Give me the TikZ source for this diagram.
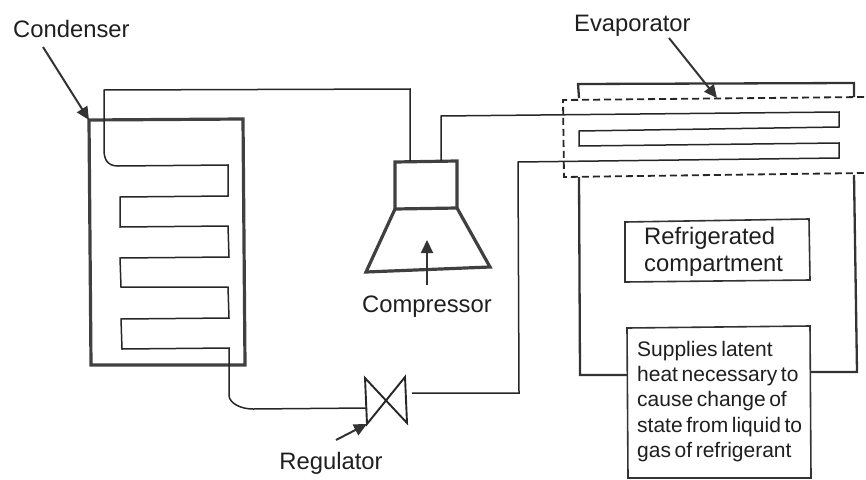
\documentclass[tikz,border=0pt]{standalone}
\usepackage{fontspec}
\setmainfont{Liberation Sans}
\usetikzlibrary{arrows.meta}
\newcommand{\tighttext}[1]{\fontsize{21}{24}\selectfont\spaceskip=3.6pt plus 0pt minus 0pt\relax #1}
\tikzset{
 thinpipe/.style={draw=black!85,line width=1.5pt,line join=miter},
 thickwall/.style={draw=black!75,line width=3.2pt,line join=miter},
 sidewall/.style={draw=black!80,line width=2.3pt,line join=miter},
 pointer/.style={draw=black!80,line width=2pt,-{Triangle[length=13pt,width=12pt]}},
 lab/.style={font=\fontsize{23.8}{26}\selectfont,text=black!88,inner sep=0pt},
 tightlab/.style={text=black!88,inner sep=0pt},
 panel/.style={draw=black!80,line width=1.6pt,fill=white},
 duct/.style={draw=black!85,line width=1.8pt,dash pattern=on 7pt off 4pt},
}
\begin{document}
\begin{tikzpicture}[x=1pt,y=-1pt]
\useasboundingbox (0,0) rectangle (866,479);
% condenser
\draw[thickwall] (89,120) -- (243,119) -- (245,365) -- (91,365) -- cycle;
% compressor
\draw[thickwall] (395,162) -- (457,161) -- (457,208) -- (395,209) -- cycle;
\draw[thickwall] (395,209) -- (366,272) -- (490,267) -- (457,208);
% coil
\draw[thinpipe] (410,161) -- (410,89) -- (104,90) -- (104,150) .. controls (104,160) and (108,166) .. (118,166) -- (228,165) -- (228,196) -- (120,197) -- (120,227) -- (228,226) -- (229,257) -- (120,258) -- (121,287) -- (228,287) -- (229,318) -- (121,319) -- (122,349) -- (229,348) -- (229,396) .. controls (230,403) and (240,409) .. (253,409) -- (366,408);
% valve
\coordinate (v1) at (365,378); \coordinate (v2) at (407,423);
\coordinate (v3) at (405,377); \coordinate (v4) at (367,424);
\draw[thinpipe,line width=1.9pt] (v1) -- (v2) -- (v3) -- (v4) -- cycle;
% evaporator coil
\draw[thinpipe] (441,161) -- (441,116) -- (839,112) -- (839,127) -- (579,131) -- (579,146) -- (839,143) -- (839,158) -- (518,162) -- (519,393) -- (412,393);
% compartment
\draw[sidewall] (579,98) -- (578,84) -- (854,83) -- (854,97);
\draw[sidewall] (579,177) -- (580,375) -- (627,375);
\draw[sidewall] (854,175) -- (857,372) -- (811,372);
\draw[duct] (864,97) -- (563,100) -- (564,177) -- (864,173);
\draw[panel] (625,222) -- (809,219) -- (810,280) -- (625,282) -- cycle;
\draw[panel] (627,328) -- (810,326) -- (811,478) -- (628,478) -- cycle;
% labels
\node[lab,anchor=base west] (l1) at (13,37) {Condenser};
\node[lab,anchor=base west] (l2) at (574,31) {Evaporator};
\node[lab,anchor=base] (l3) at (427,312) {Compressor};
\node[lab,anchor=base] (l4) at (331,469) {Regulator};
\node[lab,anchor=base west] (l5) at (644,244) {Refrigerated};
\node[lab,anchor=base west] (l6) at (644,271) {compartment};
\node[tightlab,anchor=base west] (s1) at (637,356) {\tighttext{Supplies latent}};
\node[tightlab,anchor=base west] (s2) at (637,381) {\tighttext{heat necessary to}};
\node[tightlab,anchor=base west] (s3) at (637,406) {\tighttext{cause change of}};
\node[tightlab,anchor=base west] (s4) at (637,432) {\tighttext{state from liquid to}};
\node[tightlab,anchor=base west] (s5) at (637,457) {\tighttext{gas of refrigerant}};
% pointers
\coordinate (a1) at (43,47); \coordinate (a1t) at (89,120);
\coordinate (a2) at (669,38); \coordinate (a2t) at (717,98);
\coordinate (a3) at (427,285); \coordinate (a3t) at (427,240);
\coordinate (a4) at (336,440); \coordinate (a4t) at (367,424);
\draw[pointer] (a1) -- (a1t);
\draw[pointer] (a2) -- (a2t);
\draw[pointer] (a3) -- (a3t);
\draw[pointer] (a4) -- (a4t);
\end{tikzpicture}
\end{document}
